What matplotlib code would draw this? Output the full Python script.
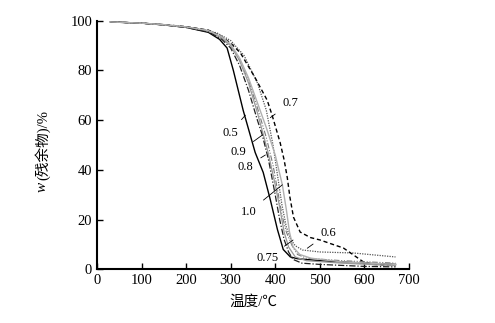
import matplotlib
matplotlib.use("Agg")
import matplotlib.pyplot as plt
import numpy as np

plt.rcParams['font.family'] = ['Liberation Serif', 'Noto Sans CJK SC']

# 温度 (°C) and residue (%)
t_05 = [30, 100, 150, 200, 250, 275, 292, 306, 328, 355, 373, 389, 405, 418, 434, 450, 500, 600, 670]
w_05 = [99.5, 99.0, 98.3, 97.3, 95.3, 92.5, 89.0, 80.0, 64.0, 47.0, 39.0, 28.0, 16.0, 8.0, 5.0, 4.3, 3.5, 2.5, 2.0]

t_06 = [30, 100, 150, 200, 250, 270, 300, 330, 360, 380, 395, 405, 415, 425, 435, 445, 461, 500, 575, 670]
w_06 = [99.5, 99.0, 98.4, 97.5, 96.0, 95.0, 92.0, 86.0, 75.0, 64.0, 50.0, 38.0, 26.0, 17.0, 12.0, 9.5, 7.8, 7.0, 6.6, 5.0]

t_07 = [30, 100, 150, 200, 250, 280, 300, 322, 355, 382, 393, 411, 420, 427, 433, 441, 456, 479, 501, 530, 553, 570, 598, 620, 670]
w_07 = [99.5, 99.0, 98.4, 97.6, 96.2, 93.5, 91.0, 87.0, 77.0, 68.0, 62.0, 51.0, 44.0, 37.0, 29.0, 21.0, 15.0, 12.8, 11.8, 10.0, 8.6, 6.5, 3.0, 2.0, 1.5]

t_075 = [30, 100, 150, 200, 250, 280, 300, 320, 340, 360, 380, 395, 405, 415, 425, 438, 450, 470, 550, 670]
w_075 = [99.5, 99.0, 98.3, 97.4, 95.8, 93.0, 90.0, 84.0, 76.0, 65.0, 53.0, 42.0, 32.0, 22.0, 15.0, 9.5, 6.0, 4.5, 3.5, 2.5]

t_08 = [30, 100, 150, 200, 250, 280, 300, 320, 340, 360, 384, 400, 410, 420, 430, 445, 470, 550, 670]
w_08 = [99.5, 99.0, 98.3, 97.4, 95.8, 93.0, 90.0, 84.0, 75.0, 63.0, 47.0, 34.0, 25.0, 15.0, 9.0, 5.0, 3.5, 2.5, 1.5]

t_09 = [30, 100, 150, 200, 250, 280, 300, 320, 340, 360, 371, 385, 400, 410, 420, 430, 440, 460, 500, 600, 670]
w_09 = [99.5, 99.0, 98.3, 97.3, 95.5, 92.5, 89.0, 82.0, 72.0, 60.0, 54.0, 44.0, 30.0, 20.0, 12.0, 7.0, 4.0, 2.5, 2.0, 1.2, 1.0]

t_10 = [30, 100, 150, 200, 250, 280, 300, 320, 340, 360, 380, 400, 416, 425, 432, 440, 455, 480, 550, 670]
w_10 = [99.5, 99.0, 98.4, 97.5, 96.0, 93.5, 90.5, 85.0, 77.0, 67.0, 57.0, 46.0, 34.0, 24.0, 15.0, 9.0, 6.0, 4.5, 3.0, 2.0]

fig = plt.figure(figsize=(4.95, 3.23), dpi=100)
ax = fig.add_axes([0.196, 0.166, 0.63, 0.77])

ax.plot(t_05, w_05, color='black', lw=1.0, ls='-')
ax.plot(t_06, w_06, color='#555555', lw=0.9, ls=(0, (1, 1)))
ax.plot(t_07, w_07, color='black', lw=1.0, ls=(0, (3, 2)))
ax.plot(t_075, w_075, color='#777777', lw=0.8, ls=(0, (5, 1.5, 1, 1.5, 1, 1.5)))
ax.plot(t_08, w_08, color='#999999', lw=0.9, ls='-')
ax.plot(t_09, w_09, color='#222222', lw=0.9, ls=(0, (5, 1.5, 1, 1.5)))
ax.plot(t_10, w_10, color='#b0b0b0', lw=1.0, ls='-')

# curve labels with leader lines
notes = [('0.5', (299, 55), (333, 62)),
         ('0.9', (317, 47), (371, 54)),
         ('0.8', (333, 41), (378, 46)),
         ('1.0', (340, 23), (416, 34)),
         ('0.75', (383, 4.5), (440, 11.8)),
         ('0.6', (519, 14.6), (472, 8.5)),
         ('0.7', (434, 67), (389, 61))]
for lab, txt, pt in notes:
    ax.annotate(lab, xy=pt, xytext=txt, fontsize=9, ha='center', va='center',
                arrowprops=dict(arrowstyle='-', color='black', lw=0.6, shrinkA=4, shrinkB=0))

ax.set_xlim(0, 700)
ax.set_ylim(0, 100)
ax.set_xticks(np.arange(0, 701, 100))
ax.set_yticks(np.arange(0, 101, 20))
ax.tick_params(direction='in', length=4, width=1, labelsize=10.5)
for s in ['top', 'right']:
    ax.spines[s].set_visible(False)
for s in ['left', 'bottom']:
    ax.spines[s].set_linewidth(1.5)

ax.set_xlabel('温度/℃', fontsize=10.5, labelpad=6)

# y label: italic w followed by the Chinese part
ax.text(-0.175, 0.31, 'w', transform=ax.transAxes, rotation=90, fontsize=11,
        style='italic', ha='center', va='bottom')
ax.text(-0.175, 0.36, '(残余物)/%', transform=ax.transAxes, rotation=90,
        fontsize=10.5, ha='center', va='bottom')

fig.savefig('out.png', dpi=100)
